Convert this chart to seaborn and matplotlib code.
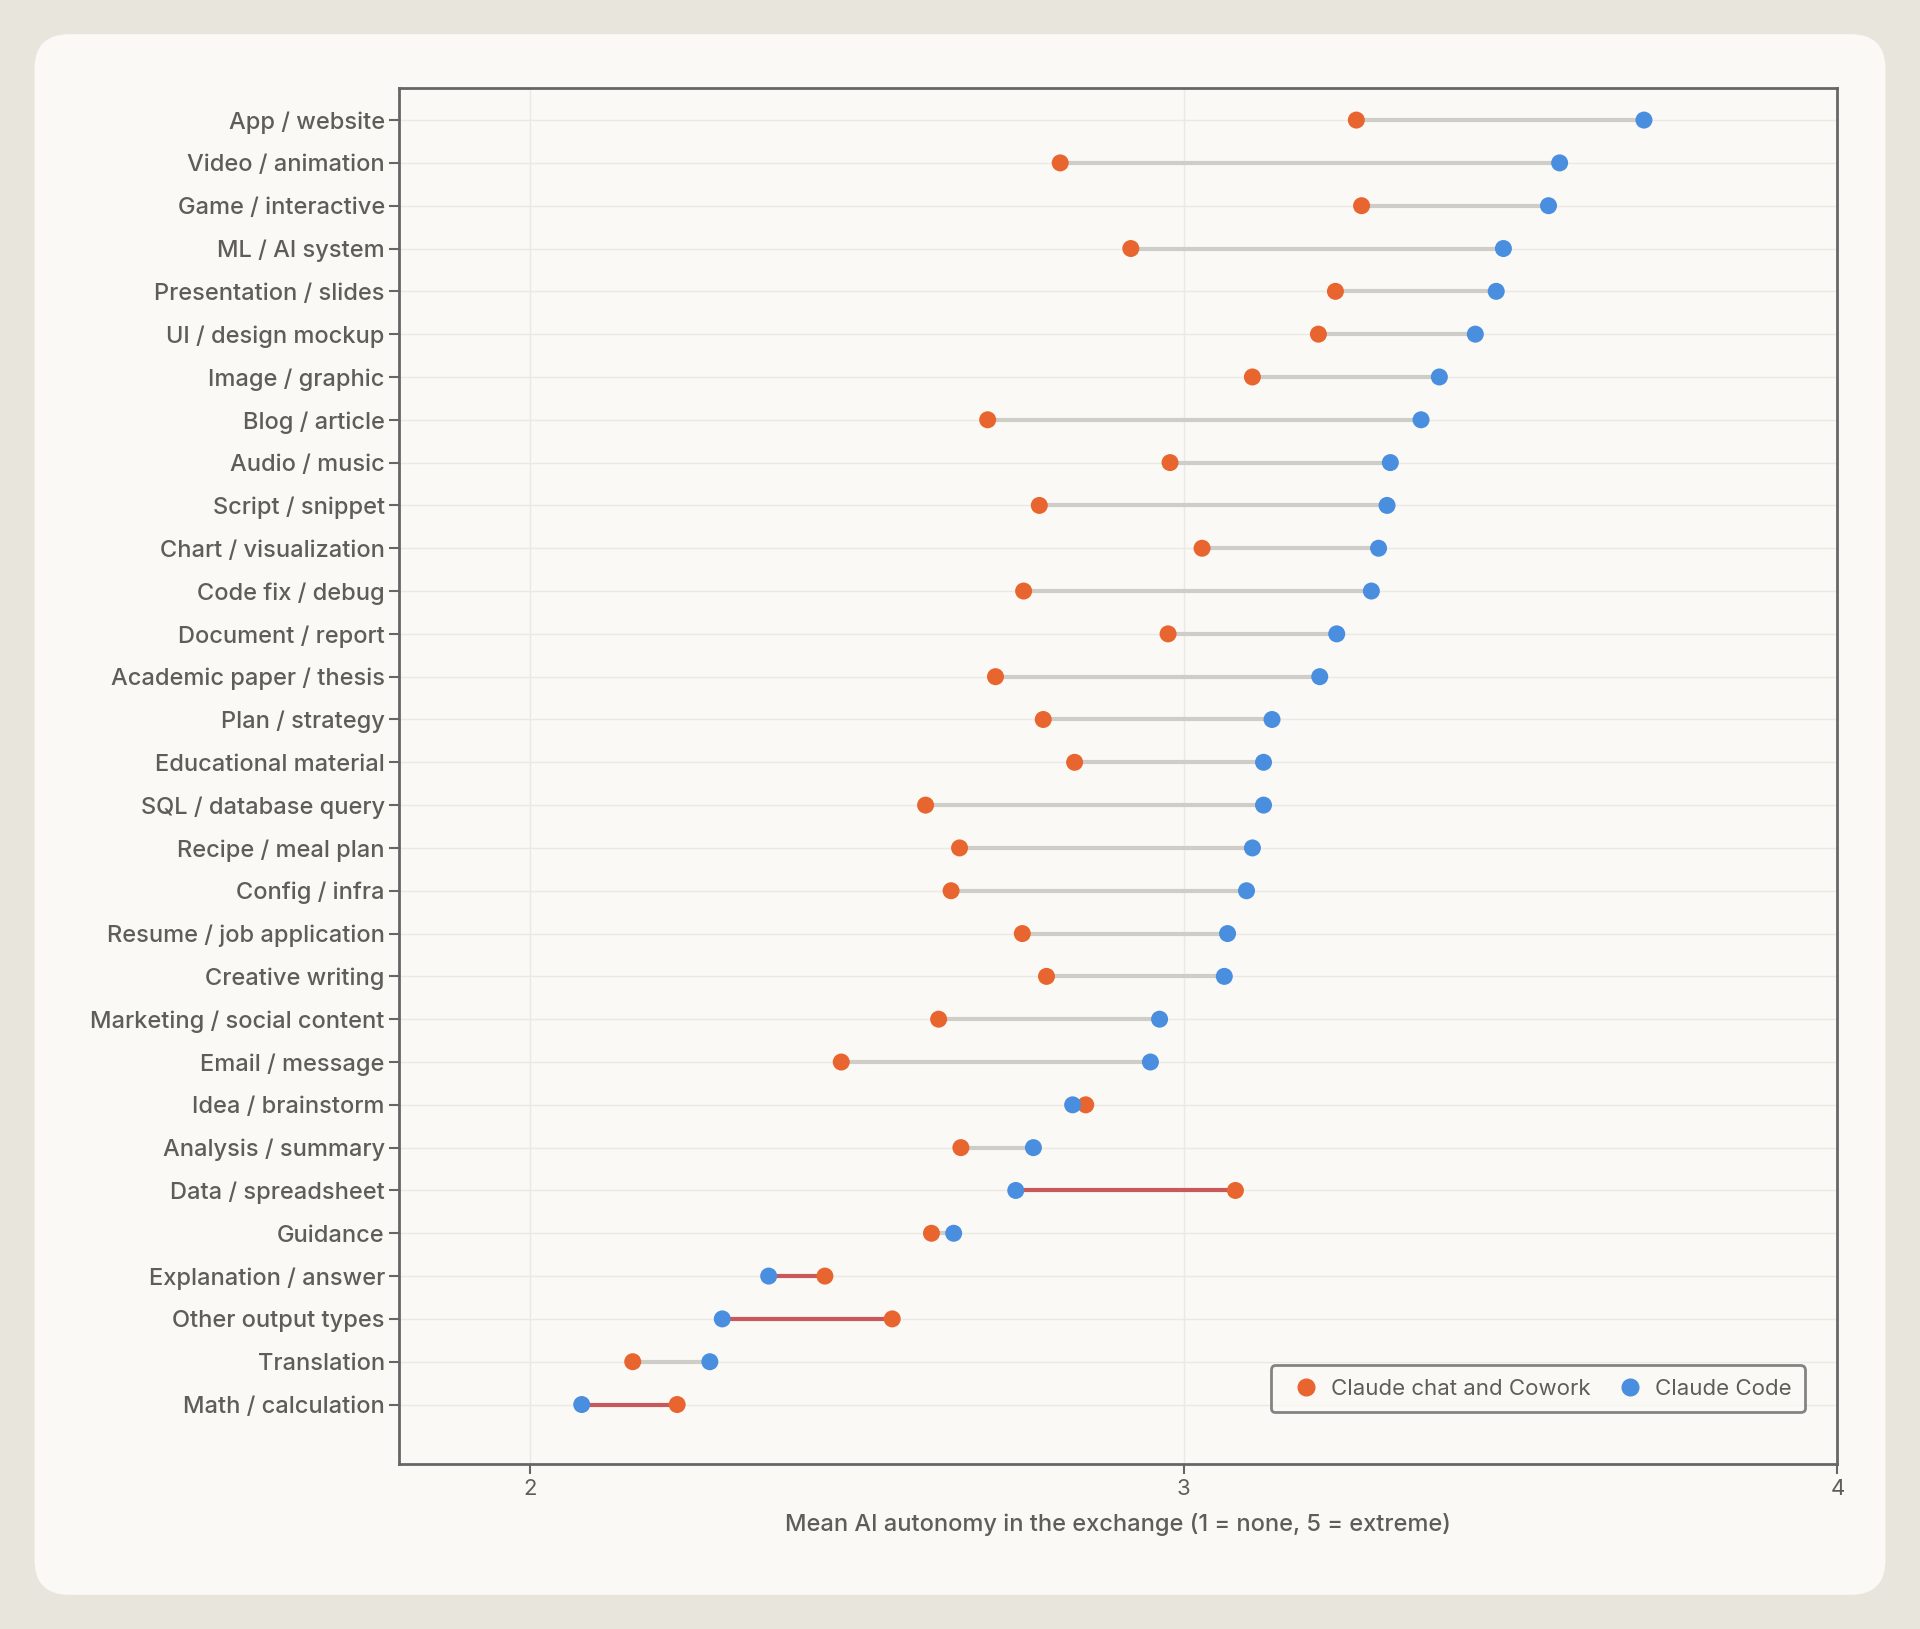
import matplotlib
matplotlib.use("Agg")
import matplotlib.pyplot as plt
import seaborn as sns
import pandas as pd
from matplotlib.patches import FancyBboxPatch
from matplotlib.lines import Line2D

categories = ["App / website","Video / animation","Game / interactive","ML / AI system",
 "Presentation / slides","UI / design mockup","Image / graphic","Blog / article",
 "Audio / music","Script / snippet","Chart / visualization","Code fix / debug",
 "Document / report","Academic paper / thesis","Plan / strategy","Educational material",
 "SQL / database query","Recipe / meal plan","Config / infra","Resume / job application",
 "Creative writing","Marketing / social content","Email / message","Idea / brainstorm",
 "Analysis / summary","Data / spreadsheet","Guidance","Explanation / answer",
 "Other output types","Translation","Math / calculation"]
chat = [3.264,2.811,3.272,2.919,3.232,3.206,3.105,2.700,2.979,2.779,3.028,2.755,2.976,2.712,
        2.785,2.833,2.605,2.657,2.644,2.753,2.790,2.625,2.476,2.850,2.659,3.079,2.614,2.451,
        2.554,2.157,2.225]
code = [3.704,3.575,3.558,3.489,3.478,3.446,3.391,3.363,3.316,3.311,3.298,3.287,3.234,3.208,
        3.135,3.122,3.122,3.105,3.096,3.067,3.062,2.963,2.949,2.830,2.770,2.743,2.648,2.365,
        2.294,2.275,2.079]

ORANGE = "#e8652f"; BLUE = "#4a8ee0"; TXT = "#5e5d59"
sns.set_theme(style="white")
plt.rcParams['font.family'] = ['Inter', 'DejaVu Sans']

fig = plt.figure(figsize=(19.2, 16.29), dpi=100, facecolor="#e8e6dc")
card = FancyBboxPatch((0.018, 0.021), 0.964, 0.958, boxstyle="round,pad=0,rounding_size=0.018",
                      mutation_aspect=1.18, transform=fig.transFigure,
                      facecolor="#faf9f5", edgecolor="none", zorder=-10)
fig.patches.append(card)
ax = fig.add_axes([0.208, 0.101, 0.749, 0.845])
ax.set_zorder(5)
ax.set_facecolor("#faf9f5")

df = pd.DataFrame({"cat": categories, "chat": chat, "code": code})
df["y"] = range(len(df))
for _, r in df.iterrows():
    col = "#c9585a" if r.chat > r.code + 0.02 else "#cfcdc7"
    ax.plot([r.chat, r.code], [r.y, r.y], color=col, lw=3, zorder=2, solid_capstyle="butt")
sns.scatterplot(data=df, x="chat", y="y", color=ORANGE, s=150, edgecolor="none", ax=ax, zorder=3)
sns.scatterplot(data=df, x="code", y="y", color=BLUE, s=150, edgecolor="none", ax=ax, zorder=3)

ax.set_xlim(1.80, 4.0)
ax.set_ylim(len(df) - 1 + 1.4, -0.75)
ax.set_yticks(df["y"])
ax.set_yticklabels(categories, fontsize=17, color=TXT, fontweight="medium")
ax.set_xticks([2, 3, 4])
ax.set_xticklabels(["2", "3", "4"], fontsize=16, color=TXT)
ax.set_xlabel("Mean AI autonomy in the exchange (1 = none, 5 = extreme)", fontsize=17,
              color=TXT, fontweight="medium", labelpad=10)
ax.set_ylabel("")
ax.tick_params(axis="both", length=7, width=1.5, color="#666666", left=True, bottom=True)
for y in df["y"]:
    ax.axhline(y, color="#ebe9e3", lw=1, zorder=1)
for x in [2, 3]:
    ax.axvline(x, color="#ebe9e3", lw=1, zorder=1)
for s in ax.spines.values():
    s.set_color("#666666"); s.set_linewidth(2)

handles = [Line2D([], [], marker="o", ls="", color=ORANGE, markersize=12, label="Claude chat and Cowork"),
           Line2D([], [], marker="o", ls="", color=BLUE, markersize=12, label="Claude Code")]
leg = ax.legend(handles=handles, loc="lower right", ncol=2, fontsize=16, frameon=True,
                bbox_to_anchor=(0.985, 0.03), handletextpad=0.1, columnspacing=0.8,
                fancybox=True, borderpad=0.6)
leg.get_frame().set_edgecolor("#666666"); leg.get_frame().set_linewidth(2)
leg.get_frame().set_facecolor("#faf9f5")
for t in leg.get_texts():
    t.set_color(TXT)

fig.savefig("out.png", dpi=100, facecolor=fig.get_facecolor())
